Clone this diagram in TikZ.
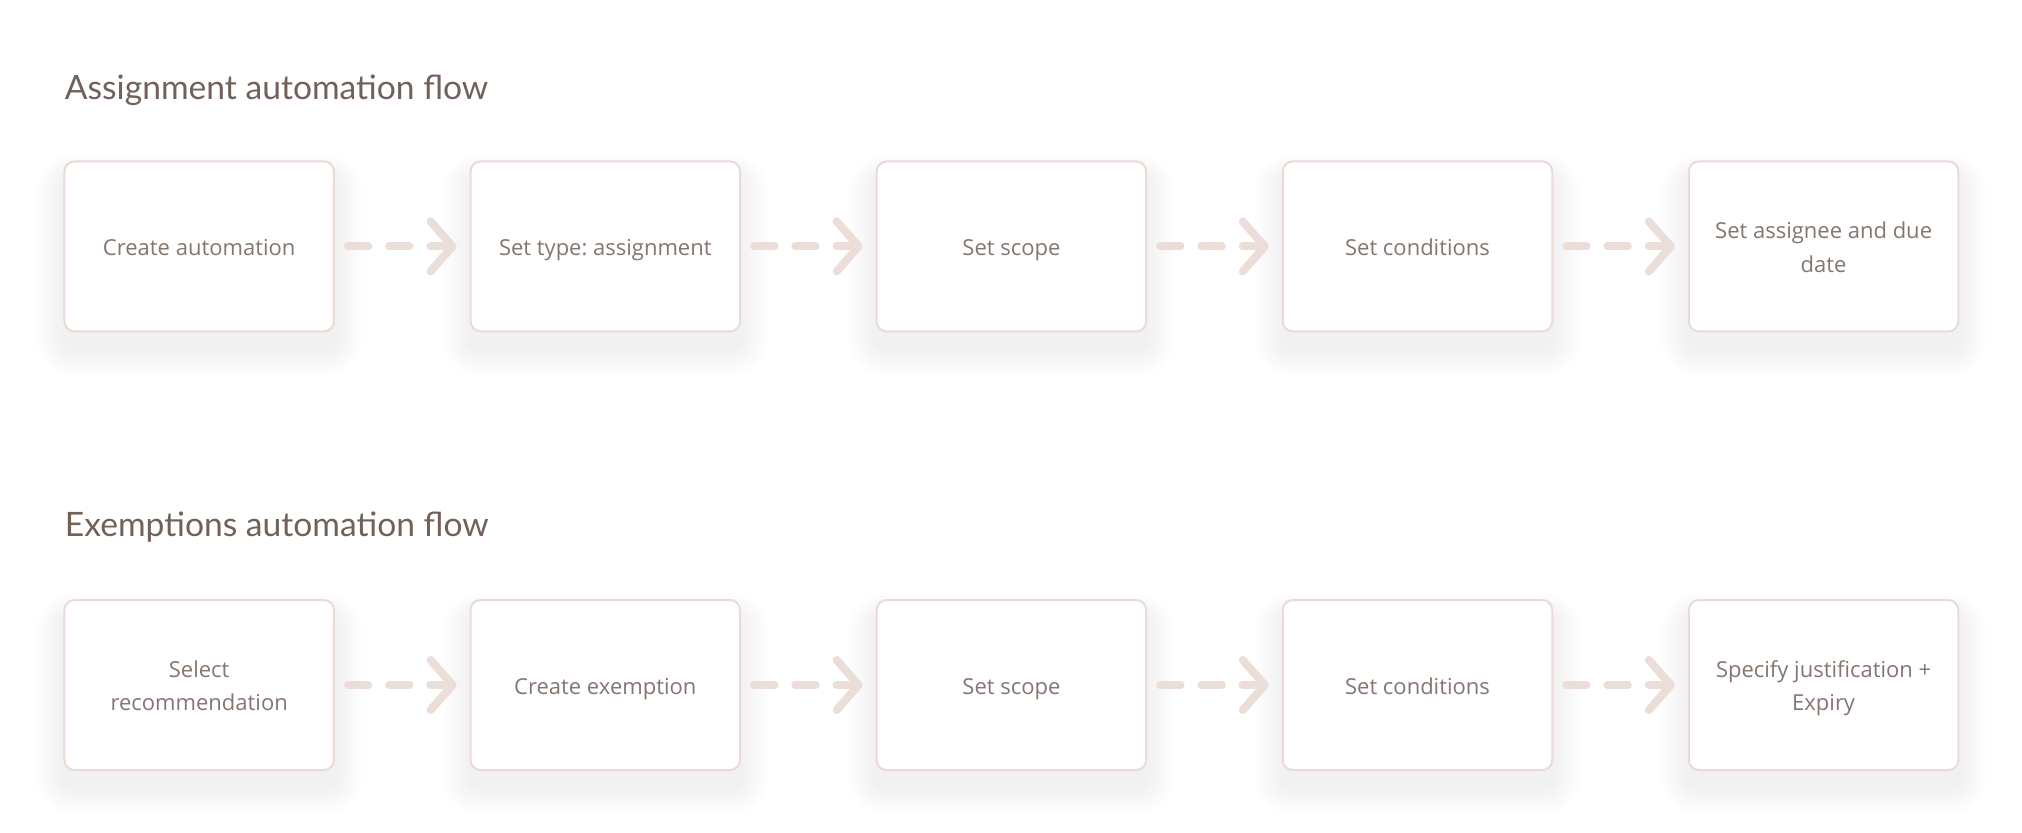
\documentclass[tikz,border=0pt]{standalone}
\usepackage{fontspec}
\setmainfont{Open Sans}
\newfontfamily\titlefont{Lato}
\frenchspacing
\usetikzlibrary{positioning,arrows.meta,backgrounds}

\definecolor{TitleInk}{HTML}{716159}
\definecolor{StepInk}{HTML}{85766F}
\definecolor{StepEdge}{HTML}{EADBD4}
\definecolor{FlowArrow}{HTML}{EBDDD7}

\tikzset{
  stepbox/.style={draw=StepEdge, line width=1pt, fill=white, rounded corners=5pt,
    minimum width=134.75pt, minimum height=85pt, inner sep=0pt,
    text=StepInk, font=\fontsize{11}{16.8}\selectfont, align=center,
    text height=12.9pt, text depth=3.9pt},
  twoline/.style={text height=29.7pt},
  flowtitle/.style={anchor=base west, inner sep=0pt, text=TitleInk,
    font=\titlefont\fontsize{16.8}{18}\selectfont},
  flowarrow/.style={draw=FlowArrow, line width=4pt, line cap=round,
    dash pattern=on 10.2pt off 10.4pt on 10.2pt off 10.4pt on 20pt off 1pt,
    -{Straight Barb[round, length=11pt, width=25pt]}},
}

\begin{document}
\begin{tikzpicture}[node distance=67.3pt]
  \useasboundingbox (0,0) rectangle (1011pt,-416pt);

  % assignment flow
  \node[flowtitle] (t1) at (32.25pt,-49.7pt) {Assignment automation flow};
  \node[stepbox] (a1) at (99.6pt,-123.2pt) {Create automation};
  \node[stepbox, right=of a1] (a2) {Set type: assignment};
  \node[stepbox, right=of a2] (a3) {Set scope};
  \node[stepbox, right=of a3] (a4) {Set conditions};
  \node[stepbox, twoline, right=of a4] (a5) {Set assignee and due\\date};

  % exemptions flow
  \node[flowtitle] (t2) at (32.25pt,-268.3pt) {Exemptions automation flow};
  \node[stepbox, twoline] (e1) at (99.6pt,-342.5pt) {Select\\recommendation};
  \node[stepbox, right=of e1] (e2) {Create exemption};
  \node[stepbox, right=of e2] (e3) {Set scope};
  \node[stepbox, right=of e3] (e4) {Set conditions};
  \node[stepbox, twoline, right=of e4] (e5) {Specify justification +\\Expiry};

  % connectors
  \foreach \p/\q in {a1/a2,a2/a3,a3/a4,a4/a5,e1/e2,e2/e3,e3/e4,e4/e5}
    \draw[flowarrow] ([xshift=6.5pt]\p.east) -- ([xshift=-6.5pt]\q.west);

  % soft shadows
  \begin{scope}[on background layer]
    \foreach \n in {a1,a2,a3,a4,a5,e1,e2,e3,e4,e5}
      \foreach \k in {1,...,14}
        \fill[black, opacity=0.0035, rounded corners={5pt+\k*1pt}]
          ([shift={(-\k*1pt,\k*0.8pt-8pt)}]\n.north west) rectangle
          ([shift={(\k*1pt,-\k*1pt-8pt)}]\n.south east);
  \end{scope}
\end{tikzpicture}
\end{document}
